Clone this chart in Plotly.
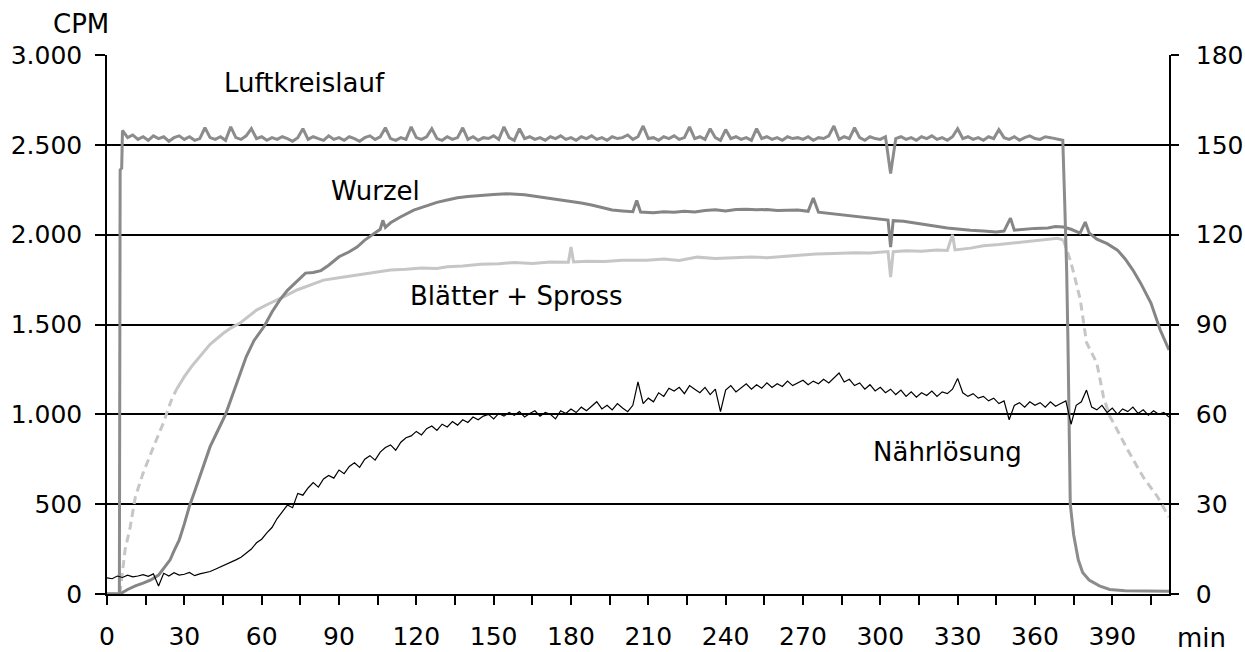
import plotly.graph_objects as go

# ---------------- data ----------------
# Luftkreislauf
luft_t_start = [0, 4.8, 5.1, 5.7, 6.0]
luft_v_start = [0, 0, 2360, 2370, 2580]
luft_t_plateau = list(range(8, 372, 2))
luft_v_plateau = [
    2540, 2555, 2530, 2545, 2525, 2550, 2535, 2545, 2520, 2540,
    2550, 2530, 2545, 2525, 2535, 2595, 2540, 2530, 2545, 2525,
    2600, 2540, 2530, 2550, 2590, 2535, 2545, 2525, 2540, 2530,
    2545, 2535, 2520, 2540, 2590, 2530, 2545, 2535, 2525, 2550,
    2530, 2540, 2525, 2545, 2535, 2520, 2540, 2550, 2530, 2545,
    2595, 2535, 2525, 2540, 2530, 2600, 2540, 2530, 2545, 2590,
    2535, 2525, 2545, 2530, 2540, 2595, 2530, 2545, 2525, 2540,
    2535, 2550, 2530, 2600, 2540, 2525, 2590, 2535, 2545, 2530,
    2540, 2525, 2545, 2535, 2550, 2530, 2540, 2525, 2545, 2535,
    2550, 2530, 2540, 2525, 2545, 2535, 2540, 2555, 2530, 2545,
    2605, 2535, 2540, 2525, 2545, 2535, 2550, 2530, 2540, 2600,
    2535, 2545, 2530, 2590, 2540, 2525, 2585, 2535, 2545, 2530,
    2540, 2525, 2590, 2535, 2545, 2530, 2540, 2525, 2545, 2535,
    2540, 2530, 2545, 2525, 2540, 2535, 2550, 2605, 2530, 2545,
    2535, 2595, 2540, 2525, 2545, 2535, 2530, 2545, 2340, 2535,
    2545, 2530, 2540, 2525, 2545, 2535, 2550, 2530, 2540, 2525,
    2545, 2590, 2535, 2545, 2530, 2540, 2525, 2545, 2535, 2585,
    2540, 2530, 2545, 2525, 2540, 2550, 2535, 2530, 2545, 2540,
    2535, 2530,
]
luft_t_end = [370.8, 371.5, 372.3, 372.8, 373.3, 373.7, 375, 376.8, 378.5, 381, 385, 389, 395, 412]
luft_v_end = [2525, 2200, 1800, 1400, 800, 500, 330, 190, 120, 78, 45, 25, 18, 15]

# Wurzel
wurzel_t = [0, 5, 8, 11, 14, 17, 20, 22, 24.5, 26, 28, 30, 32, 34, 36, 38, 40, 43, 46, 48,
            50, 52, 54, 57, 61, 64, 67, 70, 74, 77, 80, 83, 86, 90, 94, 97, 100, 103, 106, 107,
            108, 110, 114, 119, 124, 128, 132, 136, 140, 145, 150, 155, 158, 162, 166, 171, 175, 180, 184, 188,
            192, 196, 200, 204, 205.5, 207, 212, 216, 220, 224, 228, 232, 236, 240, 244, 248, 252, 256, 260, 264,
            268, 272, 274, 276, 280, 284, 287, 291, 295, 299, 303, 304, 305, 309, 313, 317, 321, 326, 330, 335,
            340, 345, 348, 350.5, 352, 356, 360, 365, 368, 371, 374, 377.5, 379.5, 381, 384, 388, 392, 395, 398, 401,
            405, 408.6, 412]
wurzel_v = [0, 0, 25, 45, 60, 78, 105, 140, 190, 240, 300, 390, 490, 570, 650, 735, 820, 910, 1000, 1080,
            1160, 1240, 1320, 1410, 1490, 1570, 1636, 1690, 1747, 1786, 1790, 1800, 1830, 1877, 1905, 1931, 1970, 2000, 2030, 2080,
            2040, 2066, 2100, 2137, 2160, 2180, 2193, 2205, 2212, 2220, 2224, 2228, 2226, 2222, 2214, 2204, 2195, 2183, 2176, 2165,
            2150, 2137, 2132, 2128, 2190, 2126, 2122, 2128, 2125, 2130, 2126, 2135, 2138, 2132, 2140, 2142, 2138, 2140, 2135, 2138,
            2137, 2130, 2204, 2125, 2118, 2112, 2109, 2100, 2092, 2086, 2081, 1931, 2078, 2075, 2065, 2058, 2048, 2037, 2030, 2025,
            2020, 2015, 2020, 2092, 2025, 2030, 2035, 2037, 2045, 2043, 2030, 2009, 2070, 2010, 1975, 1950, 1914, 1865, 1803, 1730,
            1619, 1469, 1358]

# Blätter + Spross
blatt_t_start = [0, 5, 7, 9, 11, 14, 18, 21.8, 25, 27]
blatt_v_start = [0, 0, 245, 373, 540, 673, 818, 950, 1080, 1140]
blatt_t_mid = [27, 30, 33, 36, 40, 45, 48, 51.6, 55, 58, 62, 66, 70, 73.7, 78, 84, 90, 97, 103, 110,
               116, 122, 128, 132, 138, 145, 152, 158, 165, 172, 179, 180, 181, 186, 193, 200, 209.5, 216, 222, 229,
               236, 243, 250, 256, 261, 268, 275, 282, 290, 296, 300, 303, 304, 305, 310, 316, 322, 326, 328, 329,
               335, 340, 346, 351.7, 356, 360, 365, 368.8, 371]
blatt_v_mid = [1140, 1210, 1270, 1320, 1390, 1450, 1480, 1508, 1545, 1580, 1610, 1636, 1665, 1692, 1715, 1747, 1760, 1775, 1790, 1803,
               1808, 1815, 1812, 1822, 1826, 1835, 1838, 1845, 1840, 1848, 1846, 1931, 1848, 1852, 1850, 1857, 1858, 1864, 1856, 1875,
               1868, 1874, 1876, 1872, 1878, 1885, 1892, 1895, 1900, 1898, 1903, 1906, 1764, 1905, 1910, 1908, 1914, 1912, 2000, 1915,
               1925, 1938, 1945, 1953, 1962, 1968, 1975, 1980, 1970]
blatt_t_end = [371, 372.6, 373.7, 375.5, 377.6, 380, 382, 384, 386.6, 389, 390.5, 396, 402, 407.6, 412]
blatt_v_end = [1970, 1900, 1858, 1760, 1636, 1400, 1340, 1285, 1096, 990, 952, 801, 651, 540, 428]

# Nährlösung
naehr_t = list(range(0, 413, 2))
naehr_v = [
    90, 85, 100, 92, 105, 95, 100, 108, 98, 112,
    45, 115, 100, 118, 105, 110, 120, 102, 112, 118,
    125, 138, 150, 162, 175, 190, 205, 225, 250, 285,
    305, 340, 370, 420, 455, 495, 480, 560, 550, 590,
    620, 595, 640, 660, 645, 690, 670, 710, 730, 705,
    750, 770, 745, 790, 815, 830, 800, 845, 870, 880,
    905, 885, 920, 935, 910, 945, 930, 960, 940, 970,
    955, 985, 970, 990, 1000, 975, 1005, 990, 1010, 995,
    1015, 985, 1005, 1020, 990, 1010, 1000, 975, 1020, 1005,
    1030, 1010, 1040, 1020, 1045, 1070, 1030, 1050, 1025, 1060,
    1035, 1015, 1050, 1180, 1060, 1090, 1070, 1120, 1100, 1145,
    1130, 1150, 1115, 1160, 1140, 1120, 1150, 1110, 1140, 1015,
    1135, 1160, 1125, 1150, 1170, 1140, 1165, 1145, 1175, 1150,
    1170, 1155, 1185, 1160, 1175, 1190, 1165, 1185, 1170, 1195,
    1175, 1200, 1230, 1180, 1195, 1160, 1175, 1140, 1165, 1130,
    1150, 1120, 1140, 1110, 1135, 1100, 1125, 1095, 1120, 1105,
    1130, 1100, 1125, 1115, 1140, 1200, 1120, 1100, 1115, 1090,
    1100, 1075, 1090, 1060, 1075, 970, 1050, 1065, 1040, 1070,
    1050, 1065, 1040, 1070, 1045, 1060, 1075, 945, 1050, 1070,
    1135, 1040, 1025, 1050, 1010, 1035, 1000, 1030, 1015, 1040,
    1005, 1025, 995, 1020, 1000, 1010, 985,
]

x_tick_vals = list(range(0, 391, 30))
x_minor_vals = list(range(15, 406, 30))
y_tick_vals = [0, 500, 1000, 1500, 2000, 2500, 3000]
y_tick_text = ["0", "500", "1.000", "1.500", "2.000", "2.500", "3.000"]
y2_tick_vals = [0, 30, 60, 90, 120, 150, 180]

labels = ["Luftkreislauf", "Wurzel", "Blätter + Spross", "Nährlösung"]

# ---------------- figure ----------------
FONT = "DejaVu Sans, Arial, sans-serif"
C_LUFT = "#8c8c8c"
C_WURZ = "#858585"
C_BLATT = "#c6c6c6"

fig = go.Figure()

fig.add_trace(go.Scatter(x=blatt_t_start, y=blatt_v_start, mode="lines",
                         line=dict(color=C_BLATT, width=3, dash="8px,5px")))
fig.add_trace(go.Scatter(x=blatt_t_mid, y=blatt_v_mid, mode="lines",
                         line=dict(color=C_BLATT, width=3)))
fig.add_trace(go.Scatter(x=blatt_t_end, y=blatt_v_end, mode="lines",
                         line=dict(color=C_BLATT, width=3, dash="8px,5px")))
fig.add_trace(go.Scatter(x=wurzel_t, y=wurzel_v, mode="lines",
                         line=dict(color=C_WURZ, width=3)))
fig.add_trace(go.Scatter(x=luft_t_start + luft_t_plateau + luft_t_end,
                         y=luft_v_start + luft_v_plateau + luft_v_end, mode="lines",
                         line=dict(color=C_LUFT, width=3)))
fig.add_trace(go.Scatter(x=naehr_t, y=naehr_v, mode="lines",
                         line=dict(color="black", width=1.2)))
# empty trace to carry the right axis
fig.add_trace(go.Scatter(x=[None], y=[None], yaxis="y2", mode="lines"))

fig.update_layout(
    width=1245, height=652,
    margin=dict(l=107, r=76, t=55, b=58),
    paper_bgcolor="white", plot_bgcolor="white",
    showlegend=False,
    font=dict(family=FONT, size=25, color="black"),
    xaxis=dict(range=[0, 412], tickvals=x_tick_vals, ticks="outside", ticklen=9,
               tickwidth=1.5, tickcolor="black", showline=True, linecolor="black",
               linewidth=1.5, showgrid=False, zeroline=False, automargin=False,
               ticklabelstandoff=10,
               minor=dict(tickvals=x_minor_vals, ticks="outside", ticklen=9,
                          tickwidth=1.5, tickcolor="black", showgrid=False),
               tickfont=dict(size=25)),
    yaxis=dict(range=[0, 3000], tickvals=y_tick_vals, ticktext=y_tick_text,
               ticks="outside", ticklen=10, tickwidth=1.5, tickcolor="black",
               showline=True, linecolor="black", linewidth=1.5, automargin=False,
               showgrid=True, gridcolor="black", gridwidth=1.5, zeroline=False,
               ticklabelstandoff=8, tickfont=dict(size=25)),
    yaxis2=dict(range=[0, 180], tickvals=y2_tick_vals, overlaying="y", side="right",
                ticks="outside", ticklen=8, tickwidth=1.5, tickcolor="black",
                showline=True, linecolor="black", linewidth=1.5, automargin=False,
                showgrid=False, zeroline=False, ticklabelstandoff=12,
                tickfont=dict(size=25)),
)

ann = [
    ("CPM", -0.0245, 1.0575),
    (labels[0], 0.1864, 0.948),
    (labels[1], 0.2524, 0.7477),
    (labels[2], 0.386, 0.553),
    (labels[3], 0.791, 0.2635),
    ("min", 1.031, -0.0816),
]
for text, xp, yp in ann:
    fig.add_annotation(text=text, x=xp, y=yp, xref="paper", yref="paper",
                       showarrow=False, xanchor="center", yanchor="middle",
                       font=dict(family=FONT, size=26, color="black"))

fig.write_html("out.html")
